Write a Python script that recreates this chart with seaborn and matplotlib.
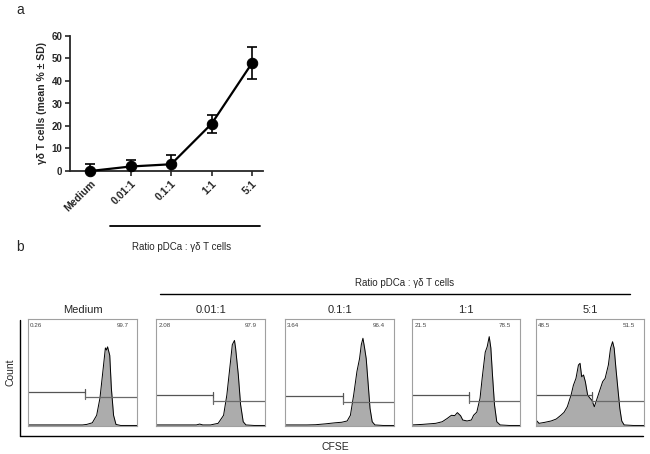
import matplotlib
matplotlib.use("Agg")
import matplotlib.pyplot as plt
import seaborn as sns

# Panel a: mean % of gd T cells per ratio
ratios = ["Medium", "0.01:1", "0.1:1", "1:1", "5:1"]
mean_pct = [0, 2, 3, 21, 48]
sd_pct = [3, 3, 4, 4, 7]

# Panel b: CFSE histograms (x = CFSE position 0-100, y = % of box height)
hist_titles = ["Medium", "0.01:1", "0.1:1", "1:1", "5:1"]
cfse_medium = [0, 10, 20, 30, 40, 50, 54, 59, 63, 66, 69, 71, 72, 73, 75, 76.5, 78.5, 80.7, 85, 90, 100]
count_medium = [1, 1, 1, 1, 1, 1, 1.5, 3, 10, 26, 54, 73, 71, 74, 66, 35, 10, 1.5, 0.5, 0.5, 0.5]
cfse_001 = [0, 10, 20, 30, 37, 40, 43, 50, 57, 62, 65, 68, 70, 72, 73, 75.5, 77.6, 80, 82.5, 90, 100]
count_001 = [1, 1, 1, 1, 1, 1.8, 1, 1, 2.5, 10, 29, 57, 76, 80, 73, 48, 20, 4, 1, 0.5, 0.5]
cfse_01 = [0, 10, 20, 28, 37, 46, 52, 57, 60, 63, 66, 68.4, 70, 71.5, 73, 74.5, 76.4, 78, 80, 82.5, 90, 100]
count_01 = [1, 1, 1, 1.2, 2, 3, 3.5, 4.7, 10, 29, 51, 63, 76, 82, 73, 63, 38, 16.5, 4, 1, 0.5, 0.5]
cfse_1 = [0, 9.5, 22, 28, 32.5, 36.5, 39.6, 42, 45, 47, 51, 55, 57, 60, 63, 65, 67.8, 69.6, 71.5,
          73, 74.5, 76.4, 78.5, 81.6, 90, 100]
count_1 = [1, 1.5, 2.5, 4, 7, 10, 9.7, 12.5, 9.6, 5.6, 4.7, 5.6, 10, 13, 26, 45, 69, 74, 83.5,
           73, 48, 19.6, 4, 1, 0.5, 0.5]
cfse_5 = [0, 2.8, 8, 14, 18.7, 23, 26, 29, 32.5, 34.6, 37, 39.3, 40.8, 42.3, 44, 45.7, 47.8, 50,
          51.8, 54, 56, 58.6, 61.7, 64, 67, 69, 70.9, 72.4, 74, 75.8, 77.6, 79.4, 81.6, 90, 100]
count_5 = [5.6, 2.5, 3.4, 4.7, 6.5, 10, 12.8, 18, 29, 38, 44.5, 57, 58.6, 46, 47.7, 41.4, 29, 26,
           24, 18, 24, 32, 41.4, 44.5, 57, 72.6, 78.8, 72.6, 53.9, 35, 16.5, 4.7, 1, 0.5, 0.5]
gate_x = [52.5, 52.5, 53, 52.5, 52]
gate_left_y = [32, 29, 28, 29, 29]
gate_right_y = [27.4, 23.4, 22.7, 23.7, 23.7]
pct_left = ["0.26", "2.08", "3.64", "21.5", "48.5"]
pct_right = ["99.7", "97.9", "96.4", "78.5", "51.5"]

sns.set_style("ticks")
plt.rcParams["font.family"] = ["Liberation Sans", "DejaVu Sans"]

W, H = 650, 454
fig = plt.figure(figsize=(W / 100, H / 100), dpi=100)


def px(x0, y0, x1, y1):
    return [x0 / W, 1 - y1 / H, (x1 - x0) / W, (y1 - y0) / H]


def fline(x0, y0, x1, y1, lw=1.2, color="black"):
    fig.add_artist(plt.Line2D([x0 / W, x1 / W], [1 - y0 / H, 1 - y1 / H],
                              transform=fig.transFigure, color=color, lw=lw))


# ---- panel a ----
ax = fig.add_axes(px(70, 36, 263, 171))
pos = list(range(len(ratios)))
ax.errorbar(pos, mean_pct, yerr=sd_pct, fmt="none", ecolor="black", elinewidth=1.2,
            capsize=3.5, capthick=1.2, zorder=2)
sns.lineplot(x=pos, y=mean_pct, marker="o", color="black", markersize=7.5,
             markeredgecolor="black", linewidth=1.6, ax=ax, zorder=3, clip_on=False)
ax.set_xlim(-0.5, 4.27)
ax.set_ylim(0, 60)
ax.set_yticks(range(0, 61, 10))
ax.set_xticks(pos)
ax.set_xticklabels(ratios, rotation=45, ha="right", rotation_mode="anchor",
                   fontsize=7.5, fontweight="bold")
for lab in ax.get_yticklabels():
    lab.set_fontsize(7)
    lab.set_fontweight("bold")
ax.set_ylabel("γδ T cells (mean % ± SD)", fontsize=7.5, fontweight="bold", labelpad=3)
for s in ["left", "bottom"]:
    ax.spines[s].set_linewidth(1.3)
sns.despine(ax=ax)
ax.tick_params(width=1.2, length=3.5, pad=2)

fline(110, 226, 260, 226, lw=1.3)
fig.text(182 / W, 1 - 247 / H, "Ratio pDCa : γδ T cells", fontsize=7, ha="center", va="center")
fig.text(20 / W, 1 - 10 / H, "a", fontsize=10, ha="center", va="center")
fig.text(20 / W, 1 - 247 / H, "b", fontsize=10, ha="center", va="center")

# ---- panel b ----
fig.text(405 / W, 1 - 283 / H, "Ratio pDCa : γδ T cells", fontsize=7, ha="center", va="center")
fline(160, 294, 630, 294, lw=1.0)
fline(20, 320, 20, 436, lw=1.0)
fline(20, 436, 643, 436, lw=1.0)
fig.text(10 / W, 1 - 372 / H, "Count", fontsize=7.5, rotation=90, ha="center", va="center")
fig.text(335 / W, 1 - 447 / H, "CFSE", fontsize=7.5, ha="center", va="center")

box_left = [28, 156, 285, 412, 536]
box_right = [137, 265, 394, 520, 644]
cfse_all = [cfse_medium, cfse_001, cfse_01, cfse_1, cfse_5]
count_all = [count_medium, count_001, count_01, count_1, count_5]

for i in range(5):
    hx = fig.add_axes(px(box_left[i], 319, box_right[i], 426))
    hx.fill_between(cfse_all[i], count_all[i], color="#acacac", lw=0)
    hx.plot(cfse_all[i], count_all[i], color="black", lw=0.7)
    gx, ly, ry = gate_x[i], gate_left_y[i], gate_right_y[i]
    hx.plot([0, gx], [ly, ly], color="#555555", lw=0.9)
    hx.plot([gx, gx], [ly - 2.5, ly + 2.5], color="#555555", lw=0.9)
    hx.plot([gx, 100], [ry, ry], color="#6a6a6a", lw=0.9)
    hx.plot([gx, gx], [ry - 2.5, ry + 2.5], color="#6a6a6a", lw=0.9)
    hx.text(2, 94, pct_left[i], fontsize=4.5, color="#444444", ha="left", va="center")
    hx.text(92, 94, pct_right[i], fontsize=4.5, color="#444444", ha="right", va="center")
    hx.set_xlim(0, 100)
    hx.set_ylim(0, 100)
    hx.set_xticks([])
    hx.set_yticks([])
    for s in hx.spines.values():
        s.set_visible(True)
        s.set_color("#a0a0a0")
        s.set_linewidth(0.8)
    fig.text((box_left[i] + box_right[i]) / 2 / W, 1 - 310 / H, hist_titles[i],
             fontsize=8, ha="center", va="center")

fig.savefig("out.png", dpi=100)
